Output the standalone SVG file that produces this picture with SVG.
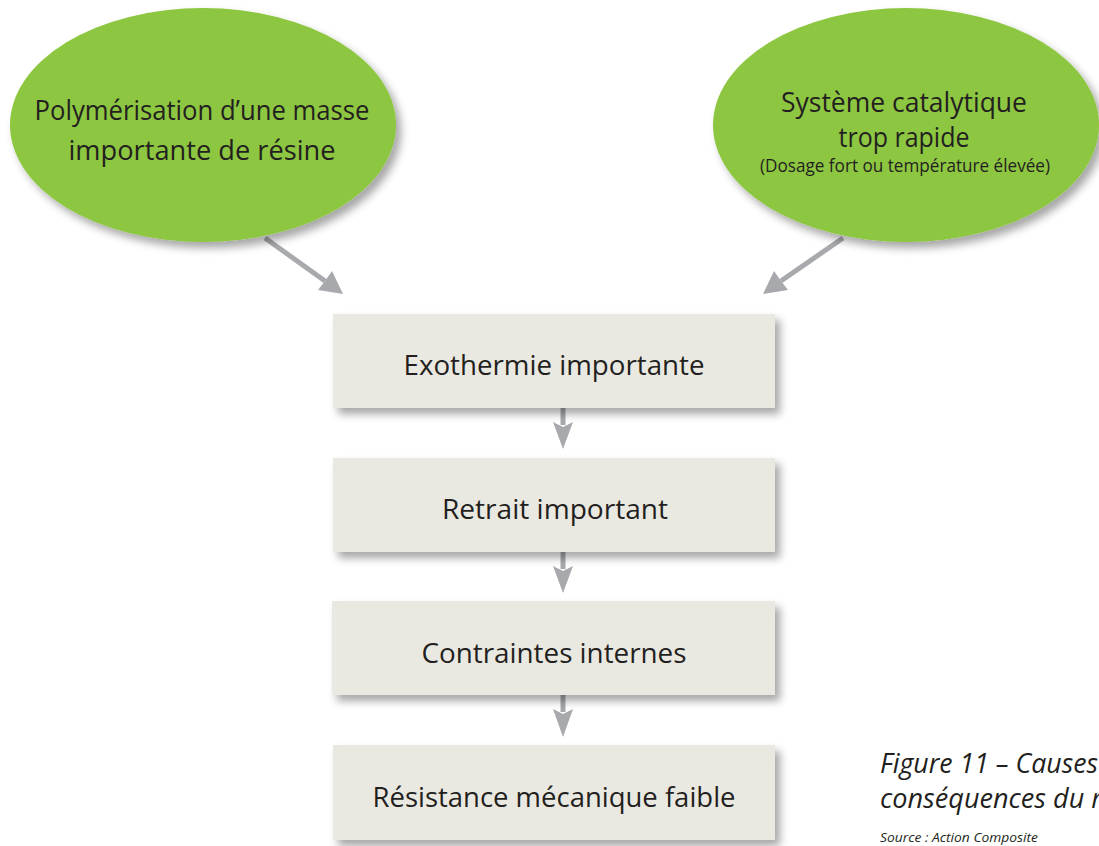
<svg xmlns="http://www.w3.org/2000/svg" width="1099" height="846" viewBox="0 0 1099 846">
<defs>
<filter id="sh" x="-10%" y="-10%" width="125%" height="130%">
<feDropShadow dx="5" dy="6" stdDeviation="4" flood-color="#000" flood-opacity="0.35"/>
</filter>
</defs>
<style>
.ell{fill:#8dc63f;filter:url(#sh)}
.box{fill:#eae9e1;filter:url(#sh)}
.t{font-family:"Open Sans","Noto Sans",sans-serif;fill:#231f20;text-anchor:middle}
.big{font-size:28px}
.box-t{font-size:28px}
.small{font-size:17.5px}
.cap{font-family:"Open Sans","Noto Sans",sans-serif;font-style:italic;fill:#231f20}
.con{stroke:#a7a9ac;fill:none}
.ah{fill:#a7a9ac}
</style>
<rect width="1099" height="846" fill="#fff"/>
<g id="connectors">
<line class="con" x1="265" y1="238" x2="325" y2="281" stroke-width="5"/>
<path class="ah" d="M343,294 L318,290 L325,281 L332,271 Z"/>
<line class="con" x1="843" y1="238" x2="781" y2="281" stroke-width="5"/>
<path class="ah" d="M763,294 L774,271 L781,281 L788,290 Z"/>
<line class="con" x1="563" y1="408" x2="563" y2="425" stroke-width="5"/>
<path class="ah" d="M553,422 L563,427 L573,422 L563,449 Z"/>
<line class="con" x1="563" y1="552" x2="563" y2="569" stroke-width="5"/>
<path class="ah" d="M553,566 L563,571 L573,566 L563,593 Z"/>
<line class="con" x1="563" y1="695" x2="563" y2="712" stroke-width="5"/>
<path class="ah" d="M553,709 L563,714 L573,709 L563,737 Z"/>
</g>
<g id="node-polym">
<ellipse class="ell" cx="203" cy="125" rx="193" ry="117"/>
<text class="t big" x="202" y="120" textLength="335" lengthAdjust="spacingAndGlyphs">Polymérisation d’une masse</text>
<text class="t big" x="202" y="160" textLength="267" lengthAdjust="spacingAndGlyphs">importante de résine</text>
</g>
<g id="node-catal">
<ellipse class="ell" cx="906" cy="125" rx="193" ry="117"/>
<text class="t big" x="904" y="112" textLength="246" lengthAdjust="spacingAndGlyphs">Système catalytique</text>
<text class="t big" x="904" y="147" textLength="131" lengthAdjust="spacingAndGlyphs">trop rapide</text>
<text class="t small" x="905" y="172" textLength="290" lengthAdjust="spacingAndGlyphs">(Dosage fort ou température élevée)</text>
</g>
<g id="node-exo">
<rect class="box" x="333" y="314" width="442" height="94"/>
<text class="t box-t" x="554" y="375" textLength="301" lengthAdjust="spacingAndGlyphs">Exothermie importante</text>
</g>
<g id="node-retrait">
<rect class="box" x="333" y="458" width="442" height="94"/>
<text class="t box-t" x="555" y="519" textLength="226" lengthAdjust="spacingAndGlyphs">Retrait important</text>
</g>
<g id="node-contraintes">
<rect class="box" x="332" y="601" width="443" height="94"/>
<text class="t box-t" x="554" y="663" textLength="265" lengthAdjust="spacingAndGlyphs">Contraintes internes</text>
</g>
<g id="node-resistance">
<rect class="box" x="333" y="745" width="442" height="95"/>
<text class="t box-t" x="554" y="807" textLength="363" lengthAdjust="spacingAndGlyphs">Résistance mécanique faible</text>
</g>
<g id="caption">
<text class="cap" x="880" y="773" font-size="26.5" textLength="218" lengthAdjust="spacingAndGlyphs">Figure 11 – Causes</text>
<text class="cap" x="880" y="808" font-size="26.5" textLength="222" lengthAdjust="spacingAndGlyphs">conséquences du r</text>
<text class="cap" x="880" y="842" font-size="13" textLength="158" lengthAdjust="spacingAndGlyphs">Source : Action Composite</text>
</g>
</svg>
